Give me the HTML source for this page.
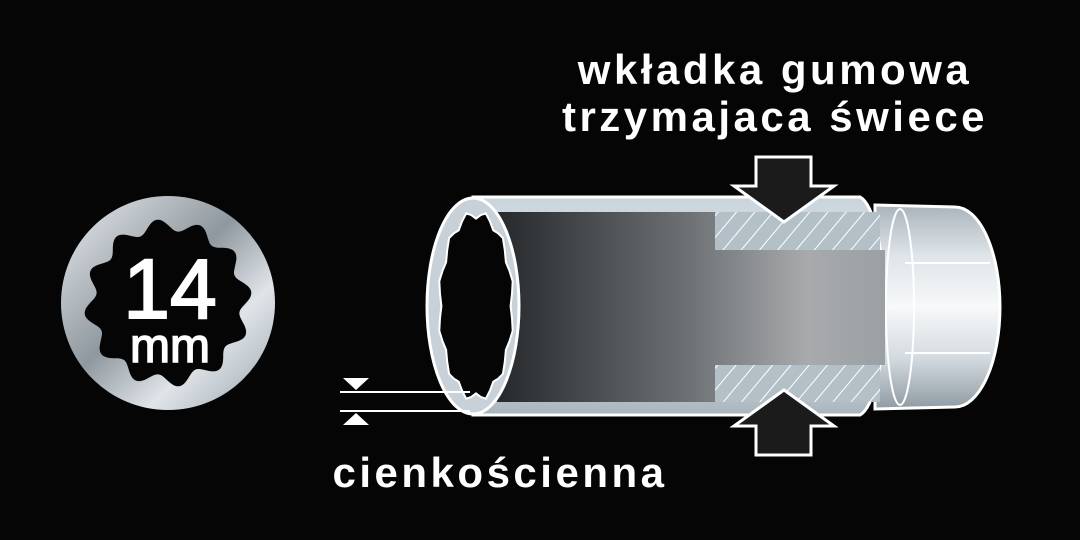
<!DOCTYPE html>
<html><head><meta charset="utf-8"><style>
html,body{margin:0;padding:0;background:#050505;}
svg{display:block}
text{font-family:"Liberation Sans","DejaVu Sans",sans-serif;fill:#fff;font-weight:bold}
</style></head><body>
<svg width="1080" height="540" viewBox="0 0 1080 540">
<defs>
<linearGradient id="met" x1="0" y1="0" x2="1" y2="1">
<stop offset="0" stop-color="#e8ecef"/><stop offset="0.45" stop-color="#8f989f"/><stop offset="0.7" stop-color="#dfe4e8"/><stop offset="1" stop-color="#9aa5ad"/>
</linearGradient>
<linearGradient id="bore" x1="0" y1="0" x2="1" y2="0">
<stop offset="0" stop-color="#25292c"/><stop offset="0.5" stop-color="#6e7275"/><stop offset="0.8" stop-color="#a8aaac"/><stop offset="1" stop-color="#9aa0a4"/>
</linearGradient>
<linearGradient id="shell" x1="0" y1="0" x2="0" y2="1">
<stop offset="0" stop-color="#c9d3da"/><stop offset="0.5" stop-color="#eef2f4"/><stop offset="1" stop-color="#a9b5bd"/>
</linearGradient>
<linearGradient id="nut" x1="0" y1="0" x2="0" y2="1">
<stop offset="0" stop-color="#aab4bc"/><stop offset="0.25" stop-color="#dfe5e9"/><stop offset="0.5" stop-color="#f7f9fa"/><stop offset="0.75" stop-color="#d4dbe0"/><stop offset="1" stop-color="#8f9aa2"/>
</linearGradient>
<pattern id="hatch" width="14" height="14" patternUnits="userSpaceOnUse" patternTransform="rotate(40)">
<rect width="14" height="14" fill="#b4c0c8"/><line x1="0" y1="0" x2="0" y2="14" stroke="#fff" stroke-width="2"/>
</pattern>
</defs>

<!-- badge -->
<circle cx="168" cy="303" r="107" fill="url(#met)"/>
<polygon id="star" fill="#050505" points=""/>
<script>
(function(){var p=[],cx=168,cy=303;for(var i=0;i<240;i++){var a=i/240*2*Math.PI;var r=78+6*Math.cos(a*12+Math.PI/2);p.push((cx+r*Math.cos(a)).toFixed(1)+","+(cy+r*Math.sin(a)).toFixed(1));}document.getElementById('star').setAttribute('points',p.join(' '));})();
</script>
<text x="170" y="318" font-size="84" text-anchor="middle" font-weight="normal" style="font-weight:normal" stroke="#fff" stroke-width="2">14</text>
<text x="170" y="362" font-size="48" text-anchor="middle" style="font-weight:normal" stroke="#fff" stroke-width="1.5">mm</text>

<!-- nut -->
<path d="M875 205 L955 207 A45 100 0 0 1 955 407 L875 409 Z" fill="url(#nut)" stroke="#fff" stroke-width="3"/>
<line x1="905" y1="263" x2="990" y2="263" stroke="#fff" stroke-width="2"/>
<line x1="905" y1="353" x2="990" y2="353" stroke="#fff" stroke-width="2"/>
<ellipse cx="900" cy="307" rx="14" ry="98" fill="none" stroke="#fff" stroke-width="2"/>

<!-- body -->
<path d="M473 197 L860 197 A28 110 0 0 1 860 415 L473 415 Z" fill="url(#shell)" stroke="#fff" stroke-width="3"/>
<path d="M497 212 H715 V250 H885 V365 H715 V402 H497 Z" fill="url(#bore)"/>
<rect x="715" y="212" width="165" height="38" fill="url(#hatch)"/>
<rect x="715" y="365" width="165" height="37" fill="url(#hatch)"/>

<!-- front ring -->
<ellipse cx="473" cy="306" rx="46" ry="108" fill="#c8d1d8" stroke="#fff" stroke-width="3"/>
<polygon id="hex" fill="#050505" stroke="#fff" stroke-width="2" points=""/>
<script>
(function(){var p=[],cx=476,cy=306;for(var i=0;i<48;i++){var a=i/48*2*Math.PI;var r=1-0.09*(1+Math.cos(i/48*12*2*Math.PI))/2;p.push((cx+38*r*Math.cos(a)).toFixed(1)+","+(cy+96*r*Math.sin(a)).toFixed(1));}document.getElementById('hex').setAttribute('points',p.join(' '));})();
</script>

<!-- arrows -->
<polygon points="756,157 811,157 811,186 834,186 784,222 734,186 756,186" fill="#1b1b1b" stroke="#fff" stroke-width="3"/>
<polygon points="756,455 811,455 811,426 834,426 784,390 734,426 756,426" fill="#1b1b1b" stroke="#fff" stroke-width="3"/>

<!-- wall dimension -->
<line x1="340" y1="392" x2="470" y2="392" stroke="#fff" stroke-width="2"/>
<line x1="340" y1="411" x2="470" y2="411" stroke="#fff" stroke-width="2"/>
<polygon points="343,378 369,378 356,390" fill="#fff"/>
<polygon points="343,425 369,425 356,413" fill="#fff"/>

<text x="775" y="84" font-size="42" text-anchor="middle" letter-spacing="3.5">wkładka gumowa</text>
<text x="775" y="131" font-size="42" text-anchor="middle" letter-spacing="3.5">trzymajaca świece</text>
<text x="500" y="487" font-size="42" text-anchor="middle" letter-spacing="3.5">cienkościenna</text>
</svg>
</body></html>
